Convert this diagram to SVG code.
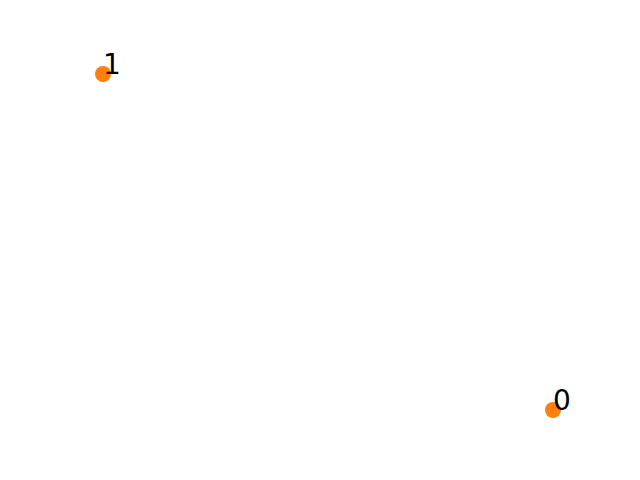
<svg xmlns="http://www.w3.org/2000/svg" width="640" height="480" viewBox="0 0 640 480">
<style>
.node circle{fill:#ff7f0e;}
.node text{font-family:"DejaVu Sans",sans-serif;font-size:28px;fill:#000;}
</style>
<rect width="640" height="480" fill="#fff"/>
<g id="edges"></g>
<g id="node-1" class="node"><circle cx="103" cy="74" r="8"/><text x="103" y="74">1</text></g>
<g id="node-0" class="node"><circle cx="553" cy="410" r="8"/><text x="553" y="410">0</text></g>
</svg>
